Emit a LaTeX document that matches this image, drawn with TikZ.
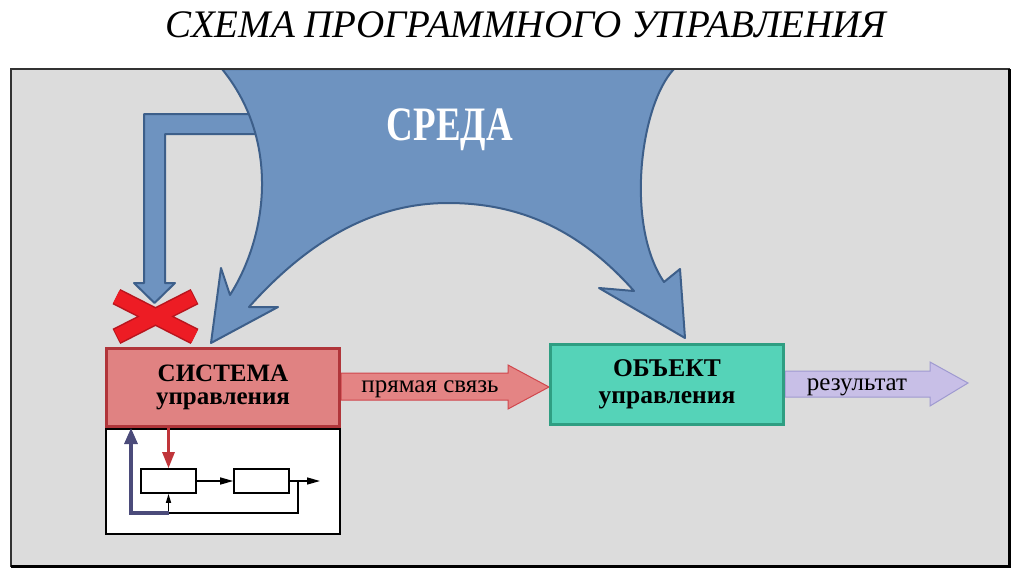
\documentclass[tikz,border=0pt]{standalone}
\usepackage{fontspec}
\setmainfont{Liberation Serif}
\usetikzlibrary{arrows.meta}

\definecolor{panel}{HTML}{DCDCDC}
\definecolor{sredafill}{HTML}{6E93C0}
\definecolor{sredaline}{HTML}{3D5F8A}
\definecolor{sysfill}{HTML}{E08282}
\definecolor{sysline}{HTML}{B0353A}
\definecolor{objfill}{HTML}{55D3B8}
\definecolor{objline}{HTML}{2F9E82}
\definecolor{fwdfill}{HTML}{E48484}
\definecolor{fwdline}{HTML}{D0474D}
\definecolor{resfill}{HTML}{C8BFE7}
\definecolor{resline}{HTML}{9F9AD0}
\definecolor{crossred}{HTML}{ED1C24}
\definecolor{crossline}{HTML}{B8141C}
\definecolor{fbline}{HTML}{4B4B7A}
\definecolor{sigred}{HTML}{C0353A}

\begin{document}
\begin{tikzpicture}[x=1pt,y=-1pt,
  blockbox/.style={line width=3pt,minimum width=233pt,minimum height=78pt,inner sep=0pt,align=center,font=\fontsize{25}{23}\selectfont\bfseries},
  smallbox/.style={draw=black,line width=1.6pt,fill=white,minimum width=55pt,minimum height=24pt,inner sep=0pt},
  blob/.style={fill=sredafill,draw=sredaline,line width=2pt,line join=round},
  lbl/.style={font=\fontsize{25}{25}\selectfont,anchor=base},
  sig/.style={line width=1.4pt,-{Triangle[length=13pt,width=7pt]}}
]
\useasboundingbox (0,0) rectangle (1023,576);

% Title
\node[font=\fontsize{39}{39}\selectfont\itshape,anchor=base] (title) at (526,37) {СХЕМА ПРОГРАММНОГО УПРАВЛЕНИЯ};

% Panel
\fill[panel] (11,69) rectangle (1009,566);

% Bent arrow into the cross
\draw[blob] (275,134) -- (165,134) -- (165,283) -- (175,283) -- (154.5,303) -- (134,283) -- (144,283) -- (144,114) -- (275,114);

% Environment
\draw[blob] (222,69) -- (674,69) .. controls (640,105) and (625,225) .. (664,282)
  -- (680,269) -- (685,338) -- (599,288) -- (634,291)
  .. controls (580,230) and (520,203) .. (448,203)
  .. controls (365,203) and (300,250) .. (249,307)
  -- (278,307) -- (211,343) -- (221,268) -- (230,295)
  .. controls (268,235) and (280,140) .. (222,69) -- cycle;
\node[font=\fontsize{48}{48}\selectfont\bfseries,text=white,anchor=base] (sreda) at (450,140) {\scalebox{0.77}[1]{СРЕДА}};

% Panel frame
\draw[line width=1.2pt,black!80] (11,69) rectangle (1009,566);
\draw[line width=3pt,black] (1009,69) -- (1009,566) -- (11,566);

% Cross
\draw[line width=17pt,crossline] (116.4,296.6) -- (194.6,336.4) (116.4,336.4) -- (194.6,296.6);
\draw[line width=14pt,crossred,shorten <=1pt,shorten >=1pt] (116.4,296.6) -- (194.6,336.4) (116.4,336.4) -- (194.6,296.6);

% Inner scheme
\node[draw=black,line width=2pt,fill=white,minimum width=234pt,minimum height=105pt,anchor=north,inner sep=0pt] (inner) at (223,428) {};
\node[smallbox] (b1) at (168.5,481) {};
\node[smallbox] (b2) at (261.5,481) {};
\coordinate (out) at (320,481);
\coordinate (tap) at (298,481);

% Boxes
\node[blockbox,fill=sysfill,draw=sysline] (sys) at (223,387) {СИСТЕМА\\управления};
\node[blockbox,fill=objfill,draw=objline,minimum height=80pt,font=\fontsize{25.5}{27}\selectfont\bfseries] (obj) at (667,384.5) {ОБЪЕКТ\\управления};

% Block arrows
\draw[fill=fwdfill,draw=fwdline,line width=1pt] (sys.east |- 0,373) -- (508,373) -- (508,365) -- (obj.west |- 0,387) -- (508,409) -- (508,400) -- (sys.east |- 0,400) -- cycle;
\node[lbl] (fwd) at (430,392) {прямая связь};
\draw[fill=resfill,draw=resline,line width=1pt] (obj.east |- 0,371) -- (930,371) -- (930,362) -- (968,383) -- (930,406) -- (930,397) -- (obj.east |- 0,397) -- cycle;
\node[lbl] (res) at (857,390) {результат};
\node[blockbox,draw=sysline,minimum height=78pt] at (sys) {};
\node[blockbox,draw=objline,minimum height=80pt] at (obj) {};

% Signals
\draw[sigred,line width=2.6pt,-{Triangle[length=16pt,width=12pt]}] (b1.north |- sys.south) -- (b1.north);
\draw[sig] (b1.east) -- (b2.west);
\draw[sig] (b2.east) -- (out);
\draw[line width=1.4pt,-{Triangle[length=9pt,width=5pt]}] (tap) -- (tap |- 0,513) -| (b1.south);
\draw[fbline,line width=3.2pt,-{Triangle[length=16pt,width=13pt]}] (b1.south |- 0,513) -- (131,513) -- (131,428);
\end{tikzpicture}
\end{document}
